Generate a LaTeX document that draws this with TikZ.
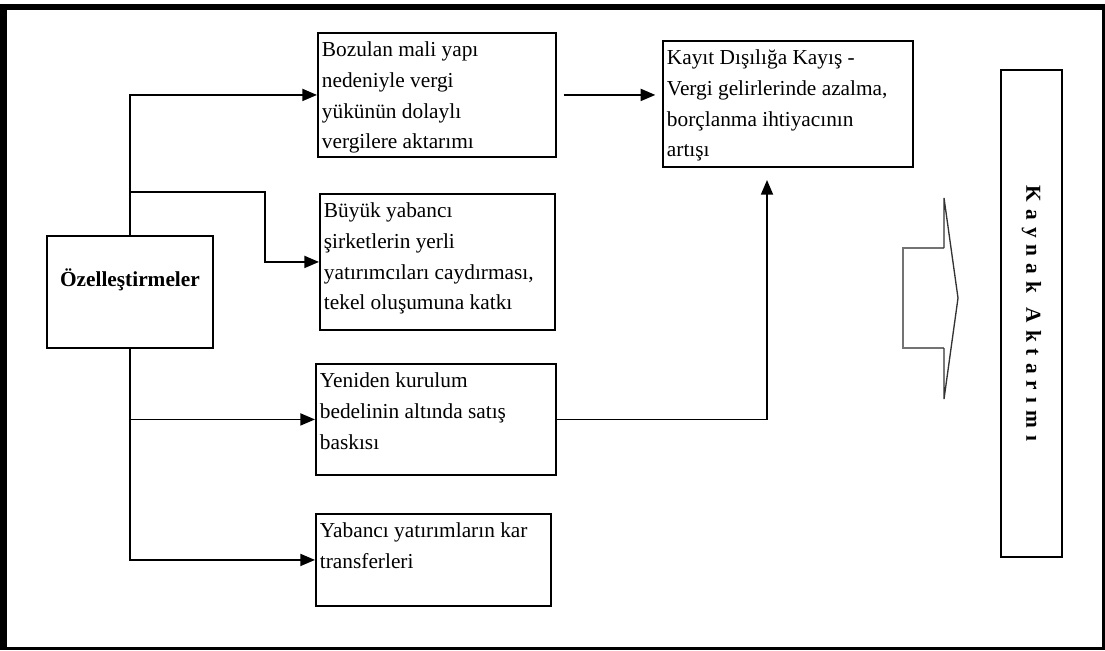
\documentclass[tikz,border=0pt]{standalone}
\usepackage{fontspec}
\setmainfont{Liberation Serif}
\usetikzlibrary{arrows.meta}

\newcommand{\cellbox}[3]{\parbox[t][#2][t]{#1}{\raggedright\rule{0pt}{17pt}#3}}

\begin{document}
\begin{tikzpicture}[x=0.75pt,y=-0.75pt,
  box/.style={draw,line width=1.4pt,anchor=north west,inner xsep=3pt,inner ysep=1pt,font=\fontsize{16}{23}\selectfont},
  link/.style={line width=1.4pt,-{Triangle[length=11pt,width=9pt]}}]
\useasboundingbox (0,0) rectangle (1105,650);
\fill[black] (0,4) rectangle (1105,650);
\fill[white] (7,10) rectangle (1102,647);

\draw (46,235)  node (ozel) [box,minimum width=124.5pt,minimum height=84pt,inner sep=0pt,
  text height=12pt,text depth=20pt,font=\bfseries\fontsize{16}{23}\selectfont] {Özelleştirmeler};

\draw (317,32)  node (bozulan) [box] {\cellbox{172.5pt}{91pt}{Bozulan mali yapı\\ nedeniyle vergi\\ yükünün dolaylı\\ vergilere aktarımı}};
\draw (319,193) node (buyuk)   [box] {\cellbox{170.25pt}{100pt}{Büyük yabancı\\ şirketlerin yerli\\ yatırımcıları caydırması,\\ tekel oluşumuna katkı}};
\draw (315,363) node (yeniden) [box] {\cellbox{174pt}{81.25pt}{Yeniden kurulum\\ bedelinin altında satış\\ baskısı}};
\draw (315,513) node (yabanci) [box] {\cellbox{170.25pt}{67pt}{Yabancı yatırımların kar\\ transferleri}};
\draw (662,40)  node (kayit)   [box] {\cellbox{181.5pt}{92.5pt}{Kayıt Dışılığa Kayış -\\ Vergi gelirlerinde azalma,\\ borçlanma ihtiyacının\\ artışı}};

\draw (1031.5,313.5) node (kaynak) [draw,line width=1.4pt,rotate=-90,minimum width=365.25pt,minimum height=45.75pt]
  {\bfseries\fontsize{16}{18}\selectfont\spaceskip=5.3pt K a y n a k\hspace{5.3pt} A k t a r ı m ı};

\coordinate (split) at (129,192);
\coordinate (bend) at (265,192);
\coordinate (rise) at (767,180);

\draw[link] (ozel) |- (bozulan);
\draw[link] (split) -- (bend) |- (buyuk);
\draw[link] (ozel) |- (yeniden);
\draw[link] (ozel) |- (yabanci);
\draw[link] ([xshift=5pt]bozulan.east) -- ([xshift=-5pt]bozulan.east -| kayit.west);
\draw[link] (yeniden) -| (rise);

% block arrow
\draw[black!55,line width=2.2pt] (944,248) -- (903,248) -- (903,348) -- (944,348);
\draw[black!80,line width=1pt] (944,248) -- (944,198) -- (958,298) -- (944,399) -- (944,348);
\end{tikzpicture}
\end{document}
